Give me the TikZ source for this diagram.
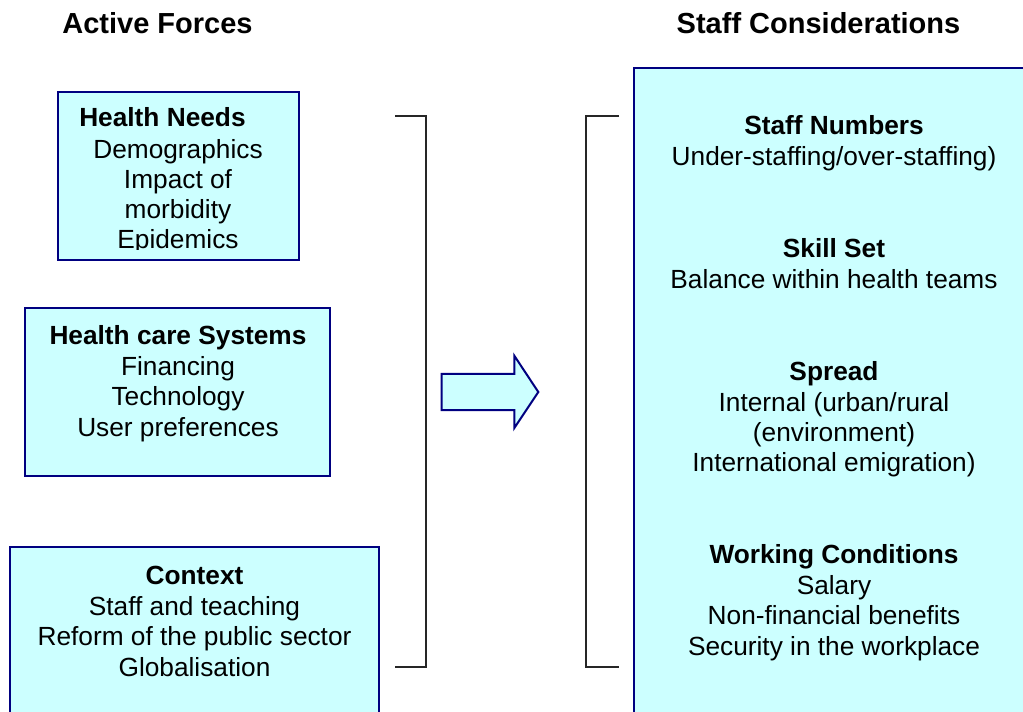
\documentclass[tikz,border=0pt]{standalone}
\usepackage{fontspec}
\setmainfont{Liberation Sans}
\definecolor{navyline}{HTML}{000080}
\definecolor{cyanfill}{HTML}{CCFFFF}
\begin{document}
\begin{tikzpicture}[x=0.75pt,y=-0.75pt,
  box/.style={draw=navyline,fill=cyanfill,line width=1.5pt},
  brk/.style={draw=black!85,line width=1.5pt},
  txt/.style={anchor=base,inner sep=0pt,font=\fontsize{19.7}{22.5}\selectfont},
  ttl/.style={txt,font=\fontsize{19.7}{22.5}\selectfont\bfseries},
  hdr/.style={anchor=base,inner sep=0pt,font=\fontsize{21.75}{25}\selectfont\bfseries}]
\useasboundingbox (0,0) rectangle (1023,712);
\clip (0,0) rectangle (1023,712);
% headers
\node[hdr] (hA) at (157.5,33.5) {Active Forces};
\node[hdr] (hS) at (818.5,33.5) {Staff Considerations};
% box 1
\path[box] (58,92) rectangle (299,260);
\begin{scope}
\clip (58,92) rectangle (299,249.5);
\node[ttl,anchor=base west] (t1) at (79,127) {Health Needs};
\node[txt] (a1) at (178,159) {Demographics};
\node[txt] (a2) at (178,189) {Impact of};
\node[txt] (a3) at (178,219) {morbidity};
\node[txt] (a4) at (178,249) {Epidemics};
\end{scope}
% box 2
\path[box] (25,308) rectangle (330,476);
\node[ttl] (t2) at (178,344.5) {Health care Systems};
\node[txt] (b1) at (178,375) {Financing};
\node[txt] (b2) at (178,405.5) {Technology};
\node[txt] (b3) at (178,436) {User preferences};
% box 3
\path[box] (10,547) rectangle (379,730);
\node[ttl] (t3) at (194.5,584) {Context};
\node[txt] (c1) at (194.5,615) {Staff and teaching};
\node[txt] (c2) at (194.5,645.5) {Reform of the public sector};
\node[txt] (c3) at (194.5,676) {Globalisation};
% brackets
\draw[brk] (395,116) -- (426,116) -- (426,667) -- (395,667);
\draw[brk] (619,116) -- (586,116) -- (586,667) -- (619,667);
% block arrow
\path[box] (441.7,374) -- (514.3,374) -- (514.3,355.7) -- (538.3,392)
  -- (514.3,428) -- (514.3,410) -- (441.7,410) -- cycle;
% right box
\path[box] (634,68) rectangle (1040,730);
\node[ttl] (r1) at (834,135) {Staff Numbers};
\node[txt] (r2) at (834,166) {Under-staffing/over-staffing)};
\node[ttl] (r3) at (834,258) {Skill Set};
\node[txt] (r4) at (834,289) {Balance within health teams};
\node[ttl] (r5) at (834,380) {Spread};
\node[txt] (r6) at (834,411) {Internal (urban/rural};
\node[txt] (r7) at (834,441) {(environment)};
\node[txt] (r8) at (834,471) {International emigration)};
\node[ttl] (r9) at (834,563) {Working Conditions};
\node[txt] (r10) at (834,594) {Salary};
\node[txt] (r11) at (834,624.5) {Non-financial benefits};
\node[txt] (r12) at (834,655) {Security in the workplace};
\end{tikzpicture}
\end{document}
